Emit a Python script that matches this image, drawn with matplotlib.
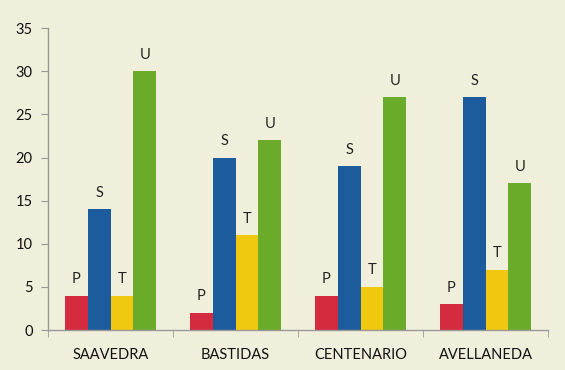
import matplotlib
matplotlib.use("Agg")
import matplotlib.pyplot as plt
import numpy as np

categories = ["SAAVEDRA", "BASTIDAS", "CENTENARIO", "AVELLANEDA"]
series_names = ["P", "S", "T", "U"]
P = [4, 2, 4, 3]
S = [14, 20, 19, 27]
T = [4, 11, 5, 7]
U = [30, 22, 27, 17]
colors = ["#d42b3e", "#1c5c9c", "#f0c810", "#6aac2a"]
bg = "#efefdc"

plt.rcParams['font.family'] = ['Lato', 'DejaVu Sans']

fig = plt.figure(figsize=(5.65, 3.7), dpi=100, facecolor=bg)
ax = fig.add_axes([0.085, 0.108, 0.885, 0.816], facecolor=bg)

x = np.arange(len(categories))
w = 0.183
data = [P, S, T, U]
for i, (name, vals, c) in enumerate(zip(series_names, data, colors)):
    pos = x + (i - 1.5) * w
    ax.bar(pos, vals, width=w, color=c, linewidth=0)
    for px, v in zip(pos, vals):
        ax.text(px, v + 1.1, name, ha='center', va='bottom', fontsize=10.5, color='#222222')

ax.set_xlim(-0.5, 3.5)
ax.set_ylim(0, 35)
ax.set_yticks(range(0, 36, 5))
ax.set_xticks(x)
ax.set_xticklabels(categories, fontsize=10.5, color='#111111')
ax.set_xticks(np.arange(-0.5, 3.6, 1), minor=True)
ax.tick_params(axis='x', which='major', length=0, pad=13)
ax.tick_params(axis='x', which='minor', length=5, color='#999999', direction='out')
ax.tick_params(axis='y', length=5, color='#999999', labelsize=10.5, labelcolor='#111111', pad=6)
for s in ['top', 'right']:
    ax.spines[s].set_visible(False)
for s in ['left', 'bottom']:
    ax.spines[s].set_color('#999999')
    ax.spines[s].set_linewidth(1)

fig.savefig("out.png", dpi=100, facecolor=bg)
